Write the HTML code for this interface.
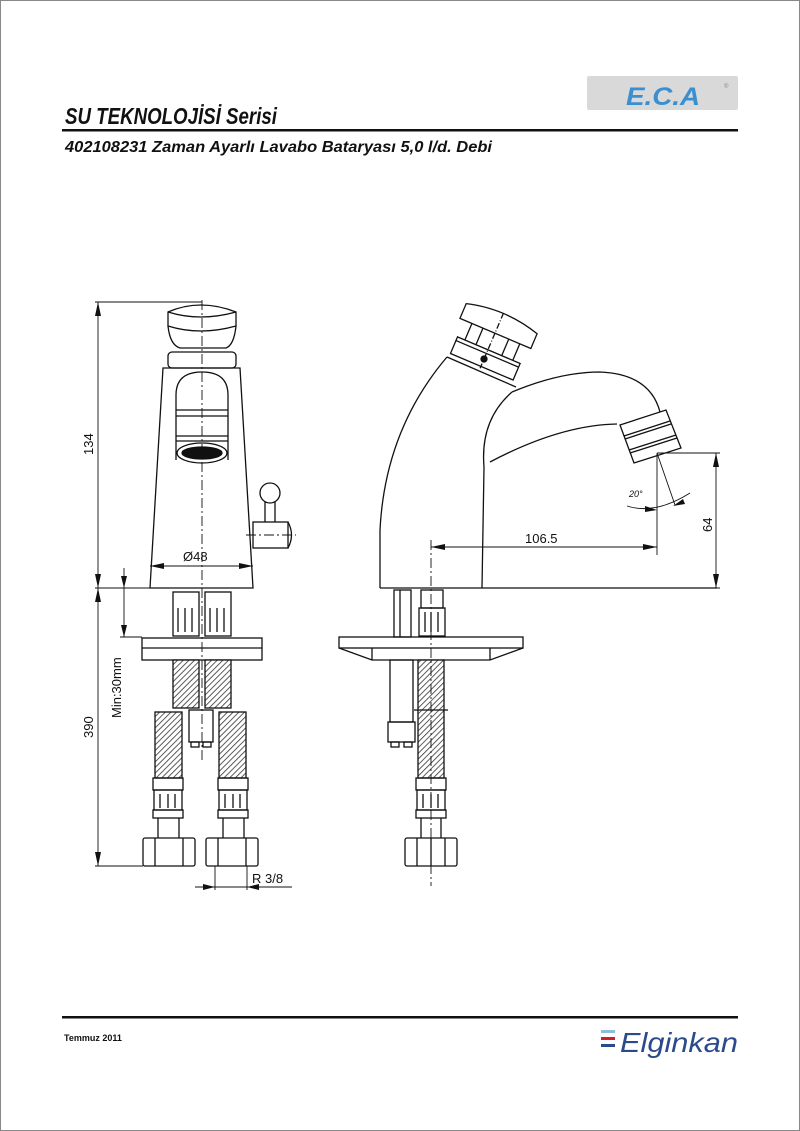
<!DOCTYPE html>
<html><head><meta charset="utf-8"><style>
html,body{margin:0;padding:0;background:#fff}
svg{display:block}
</style></head><body>
<svg width="800" height="1131" viewBox="0 0 800 1131" xmlns="http://www.w3.org/2000/svg" font-family="Liberation Sans, sans-serif">
<rect x="0.5" y="0.5" width="799" height="1130" fill="#fff" stroke="#888" stroke-width="1"/>
<!-- header -->
<rect x="587" y="76" width="151" height="34" rx="2" fill="#d9d9d9"/>
<text x="626" y="105" font-size="25" font-weight="bold" font-style="italic" fill="#3a8fd0" textLength="74" lengthAdjust="spacingAndGlyphs">E.C.A</text>
<text x="724" y="88" font-size="6" fill="#888">®</text>
<text x="65" y="124" font-size="23" font-weight="bold" font-style="italic" fill="#111" textLength="212" lengthAdjust="spacingAndGlyphs">SU TEKNOLOJİSİ Serisi</text>
<rect x="62" y="129" width="676" height="2.5" fill="#111"/>
<text x="65" y="152" font-size="16" font-weight="bold" font-style="italic" fill="#111" textLength="427" lengthAdjust="spacingAndGlyphs">402108231 Zaman Ayarlı Lavabo Bataryası 5,0 l/d. Debi</text>
<!-- footer -->
<rect x="62" y="1016" width="676" height="2.5" fill="#111"/>
<text x="64" y="1041" font-size="9" font-weight="bold" fill="#111">Temmuz 2011</text>
<rect x="601" y="1030" width="14" height="3" fill="#8fbde0"/>
<rect x="601" y="1037" width="14" height="3" fill="#d0202a"/>
<rect x="601" y="1044" width="14" height="3" fill="#2b4a8a"/>
<text x="620" y="1052" font-size="28" font-style="italic" fill="#2b4a8a" textLength="118" lengthAdjust="spacingAndGlyphs">Elginkan</text>

<defs><pattern id="h" width="4" height="4" patternUnits="userSpaceOnUse" patternTransform="rotate(45)"><rect width="4" height="4" fill="#fff"/><line x1="0" y1="0" x2="0" y2="4" stroke="#333" stroke-width="1.6"/></pattern></defs>
<g fill="none" stroke="#111" stroke-width="1.3">
<!-- FRONT VIEW -->
<path d="M168 312 Q200 298 236 312 L236 326 Q200 336 168 326 Z"/>
<path d="M168 326 Q170 345 180 348 L226 348 Q234 345 236 326"/>
<path d="M168 312 Q200 322 236 312"/>
<rect x="168" y="352" width="68" height="16" rx="4"/>
<path d="M163 368 L240 368 L253 588 L150 588 Z"/>
<path d="M176 460 L176 395 Q176 372 202 372 Q228 372 228 395 L228 460"/>
<path d="M176 410 L228 410 M176 416 L228 416 M176 436 L228 436 M176 441 L228 441"/>
<ellipse cx="202" cy="453" rx="25" ry="10"/>
<ellipse cx="202" cy="453" rx="20" ry="6" fill="#111"/>
<circle cx="270" cy="493" r="10"/>
<path d="M265 502 L265 522 M275 502 L275 522"/>
<rect x="253" y="522" width="35" height="26"/>
<path d="M288 522 Q295 535 288 548"/>
<!-- front bottom -->
<rect x="173" y="592" width="26" height="44"/>
<rect x="205" y="592" width="26" height="44"/>
<path d="M178 608 v24 M185 608 v24 M192 608 v24 M210 608 v24 M217 608 v24 M224 608 v24"/>
<rect x="142" y="638" width="120" height="22"/>
<line x1="142" y1="648" x2="262" y2="648"/>
<rect x="173" y="660" width="26" height="48" fill="url(#h)"/>
<rect x="205" y="660" width="26" height="48" fill="url(#h)"/>
<rect x="155" y="712" width="27" height="66" fill="url(#h)"/>
<rect x="219" y="712" width="27" height="66" fill="url(#h)"/>
<rect x="189" y="710" width="24" height="32"/>
<rect x="191" y="742" width="8" height="5"/><rect x="203" y="742" width="8" height="5"/>
<rect x="153" y="778" width="30" height="12"/><rect x="154" y="790" width="28" height="20"/><rect x="153" y="810" width="30" height="8"/>
<rect x="218" y="778" width="30" height="12"/><rect x="219" y="790" width="28" height="20"/><rect x="218" y="810" width="30" height="8"/>
<path d="M160 794 v14 M168 794 v14 M175 794 v14 M225 794 v14 M233 794 v14 M240 794 v14"/>
<path d="M158 818 v20 M179 818 v20 M223 818 v20 M244 818 v20"/>
<rect x="143" y="838" width="52" height="28" rx="2"/>
<rect x="206" y="838" width="52" height="28" rx="2"/>
<path d="M155 838 v28 M183 838 v28 M218 838 v28 M246 838 v28"/>
<!-- SIDE VIEW -->
<path d="M380 588 L380 530 Q385 430 447 357"/>
<path d="M447 357 L516 387"/>
<path d="M512 392 Q560 372 600 372 Q650 374 660 412"/>
<path d="M490 462 Q560 425 617 424"/>
<path d="M512 392 Q480 420 484 467 L482 588"/>
<path d="M380 588 L484 588 M484 588 L717 588"/>
<g transform="translate(-4 9) rotate(23 488 350)">
<rect x="455" y="340" width="68" height="18"/>
<line x1="455" y1="344" x2="523" y2="344"/>
<path d="M463 340 V322 M475 340 V322 M503 340 V322 M515 340 V322"/>
<path d="M450 322 L450 306 Q488 295 527 306 L527 322 Z"/>
<line x1="488" y1="300" x2="488" y2="360" stroke-dasharray="6 2 1 2"/>
<circle cx="488" cy="350" r="3" fill="#111"/>
</g>
<path d="M620 425 L666 410 L681 448 L634 463 Z"/>
<path d="M624 436 L670 421 M625 439 L671 424 M629 450 L676 435 M630 453 L677 438"/>
<rect x="339" y="637" width="184" height="11"/>
<path d="M339 648 L372 660 L490 660 L523 648 M372 648 V660 M490 648 V660"/>
<rect x="394" y="590" width="17" height="47"/><line x1="400" y1="590" x2="400" y2="637"/>
<rect x="390" y="660" width="23" height="62"/>
<rect x="388" y="722" width="27" height="20"/>
<rect x="391" y="742" width="8" height="5"/><rect x="404" y="742" width="8" height="5"/>
<rect x="421" y="590" width="22" height="18"/>
<rect x="419" y="608" width="26" height="28"/>
<path d="M425 612 v20 M431 612 v20 M438 612 v20"/>
<rect x="418" y="660" width="26" height="118" fill="url(#h)"/>
<line x1="414" y1="710" x2="448" y2="710"/>
<rect x="416" y="778" width="30" height="12"/><rect x="417" y="790" width="28" height="20"/><rect x="416" y="810" width="30" height="8"/>
<path d="M423 794 v14 M431 794 v14 M438 794 v14 M421 818 v20 M441 818 v20"/>
<rect x="405" y="838" width="52" height="28" rx="2"/>
<path d="M417 838 v28 M431 838 v28 M445 838 v28"/>
</g>
<!-- center lines -->
<g stroke="#111" stroke-width="0.9" stroke-dasharray="10 3 2 3" fill="none">
<line x1="202" y1="300" x2="202" y2="760"/>
<line x1="431" y1="540" x2="431" y2="886"/>
<line x1="246" y1="535" x2="296" y2="535"/>
</g>
<!-- dimensions -->
<g stroke="#111" stroke-width="0.9" fill="none">
<path d="M95 302 H202 M95 588 H150 M95 866 H143 M98 302 V866"/>
<path d="M120 637 H142 M124 568 V637"/>
<path d="M150 566 H253"/>
<path d="M215 866 V890 M247 866 V890 M195 887 H292"/>
<path d="M657 453 H720 M657 588 H720 M716 453 V588"/>
<path d="M431 547 H657 M657 453 V555"/>
<path d="M657 453 L675 505"/>
<path d="M627 506 Q655 515 690 493"/>
</g>
<g fill="#111">
<path d="M98 302 l-3 14 h6z M98 588 l-3 -14 h6z M98 588 l-3 14 h6z M98 866 l-3 -14 h6z"/>
<path d="M124 588 l-3 -12 h6z M124 637 l-3 -12 h6z"/>
<path d="M150 566 l14 -3 v6z M253 566 l-14 -3 v6z"/>
<path d="M215 887 l-12 -3 v6z M247 887 l12 -3 v6z"/>
<path d="M716 453 l-3 14 h6z M716 588 l-3 -14 h6z"/>
<path d="M431 547 l14 -3 v6z M657 547 l-14 -3 v6z"/>
<path d="M657 510 l-12 -4 v6z M673 506 l10 -7 l2 5z"/>
</g>
<g font-size="13" fill="#111">
<text transform="translate(93 455) rotate(-90)">134</text>
<text transform="translate(93 738) rotate(-90)">390</text>
<text transform="translate(121 718) rotate(-90)">Min:30mm</text>
<text x="183" y="561">Ø48</text>
<text x="525" y="543">106.5</text>
<text transform="translate(712 532) rotate(-90)">64</text>
<text x="252" y="883">R 3/8</text>
<text x="629" y="497" font-size="9" font-style="italic">20°</text>
</g>
</svg>
</body></html>
